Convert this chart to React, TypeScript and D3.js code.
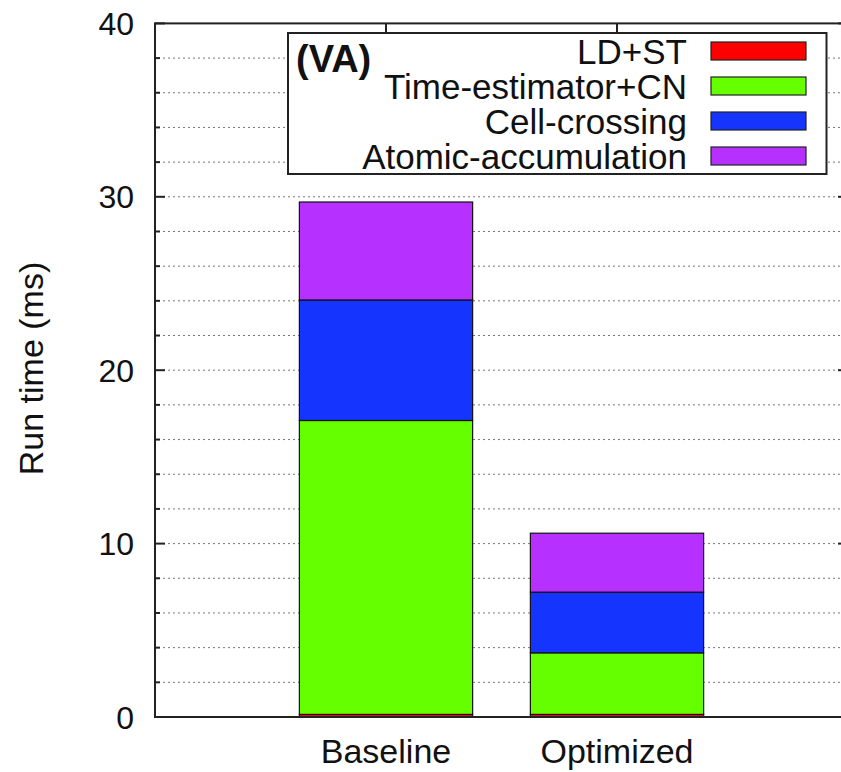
import { useEffect, useRef } from "react";
import * as d3 from "d3";

// categories and stacked series (ms)
const CATEGORIES = ["Baseline", "Optimized"];
const SERIES = ["LD+ST", "Time-estimator+CN", "Cell-crossing", "Atomic-accumulation"];
const LD_ST = [0.15, 0.15];
const TIME_EST_CN = [16.95, 3.55];
const CELL_CROSSING = [6.95, 3.5];
const ATOMIC_ACC = [5.65, 3.4];
const Y_TICKS = [0, 10, 20, 30, 40];
const Y_MINOR = [2, 4, 6, 8, 12, 14, 16, 18, 22, 24, 26, 28, 32, 34, 36, 38];

const COLORS = ["#ff0000", "#66ff00", "#1535ff", "#b630ff"];

const W = 841;
const H = 772;
const PLOT = { left: 155, right: 848, top: 23.4, bottom: 717 };
const FONT = "'Liberation Sans', Arial, Helvetica, sans-serif";

export default function App() {
  const svgRef = useRef<SVGSVGElement>(null);

  useEffect(() => {
    const svgEl = svgRef.current;
    if (!svgEl) return;
    const svg = d3.select(svgEl);
    svg.selectAll("*").remove();

    const x = d3.scaleLinear().domain([-1, 2]).range([PLOT.left, PLOT.right]);
    const y = d3.scaleLinear().domain([0, 40]).range([PLOT.bottom, PLOT.top]);
    const barW = x(0.75) - x(0);

    // dotted grid lines
    const grid = [...Y_MINOR, 10, 20, 30];
    svg
      .append("g")
      .selectAll("line")
      .data(grid)
      .enter()
      .append("line")
      .attr("x1", PLOT.left + 8)
      .attr("x2", PLOT.right)
      .attr("y1", (d) => y(d))
      .attr("y2", (d) => y(d))
      .attr("stroke", "#777")
      .attr("stroke-width", 1)
      .attr("stroke-dasharray", "2 3");

    // stacked bars
    const rows = CATEGORIES.map((c, i) => ({
      cat: c,
      i,
      v0: LD_ST[i],
      v1: TIME_EST_CN[i],
      v2: CELL_CROSSING[i],
      v3: ATOMIC_ACC[i],
    }));
    const stack = d3.stack<any>().keys(["v0", "v1", "v2", "v3"]);
    const layers = stack(rows);
    layers.forEach((layer, k) => {
      svg
        .append("g")
        .selectAll("rect")
        .data(layer)
        .enter()
        .append("rect")
        .attr("x", (d: any) => x(d.data.i) - barW / 2)
        .attr("y", (d) => y(d[1]))
        .attr("width", barW)
        .attr("height", (d) => y(d[0]) - y(d[1]))
        .attr("fill", COLORS[k])
        .attr("stroke", "#111")
        .attr("stroke-width", 1.2);
    });

    // frame
    svg
      .append("rect")
      .attr("x", PLOT.left)
      .attr("y", PLOT.top)
      .attr("width", PLOT.right - PLOT.left)
      .attr("height", PLOT.bottom - PLOT.top)
      .attr("fill", "none")
      .attr("stroke", "#222")
      .attr("stroke-width", 2);

    // y ticks (left + right mirrored)
    const ticks = svg.append("g").attr("stroke", "#222").attr("stroke-width", 2);
    Y_TICKS.concat(Y_MINOR).forEach((t) => {
      const len = Y_TICKS.includes(t) ? 10 : 5;
      ticks
        .append("line")
        .attr("x1", PLOT.left)
        .attr("x2", PLOT.left + len)
        .attr("y1", y(t))
        .attr("y2", y(t));
      ticks
        .append("line")
        .attr("x1", PLOT.right)
        .attr("x2", PLOT.right - len)
        .attr("y1", y(t))
        .attr("y2", y(t));
    });
    // top mirrored x ticks
    CATEGORIES.forEach((_, i) => {
      ticks
        .append("line")
        .attr("x1", x(i))
        .attr("x2", x(i))
        .attr("y1", PLOT.top)
        .attr("y2", PLOT.top + 10);
    });

    svg
      .append("g")
      .selectAll("text")
      .data(Y_TICKS)
      .enter()
      .append("text")
      .attr("x", 134)
      .attr("y", (d) => y(d))
      .attr("dy", "0.36em")
      .attr("text-anchor", "end")
      .attr("font-family", FONT)
      .attr("font-size", 32)
      .attr("fill", "#111")
      .text((d) => d);

    svg
      .append("g")
      .selectAll("text")
      .data(CATEGORIES)
      .enter()
      .append("text")
      .attr("x", (_, i) => x(i))
      .attr("y", 763)
      .attr("text-anchor", "middle")
      .attr("font-family", FONT)
      .attr("font-size", 34)
      .attr("fill", "#111")
      .text((d) => d);

    svg
      .append("text")
      .attr("transform", `translate(43, 368.5) rotate(-90)`)
      .attr("text-anchor", "middle")
      .attr("font-family", FONT)
      .attr("font-size", 34)
      .attr("fill", "#111")
      .text("Run time (ms)");

    // legend
    const lg = svg.append("g");
    lg.append("rect")
      .attr("x", 288)
      .attr("y", 33)
      .attr("width", 538.5)
      .attr("height", 141)
      .attr("fill", "#fff")
      .attr("stroke", "#222")
      .attr("stroke-width", 2);
    lg.append("text")
      .attr("x", 296)
      .attr("y", 72)
      .attr("font-family", FONT)
      .attr("font-weight", "bold")
      .attr("font-size", 38)
      .attr("fill", "#111")
      .text("(VA)");
    SERIES.forEach((s, k) => {
      const cy = 51 + k * 35;
      lg.append("text")
        .attr("x", 687)
        .attr("y", cy + 12.5)
        .attr("text-anchor", "end")
        .attr("font-family", FONT)
        .attr("font-size", 35)
        .attr("fill", "#111")
        .text(s);
      lg.append("rect")
        .attr("x", 711)
        .attr("y", cy - 9)
        .attr("width", 95)
        .attr("height", 18)
        .attr("fill", COLORS[k])
        .attr("stroke", "#222")
        .attr("stroke-width", 1.2);
    });
  }, []);

  return (
    <svg
      ref={svgRef}
      width={W}
      height={H}
      style={{ position: "absolute", left: 0, top: 0, background: "#fff" }}
    />
  );
}
